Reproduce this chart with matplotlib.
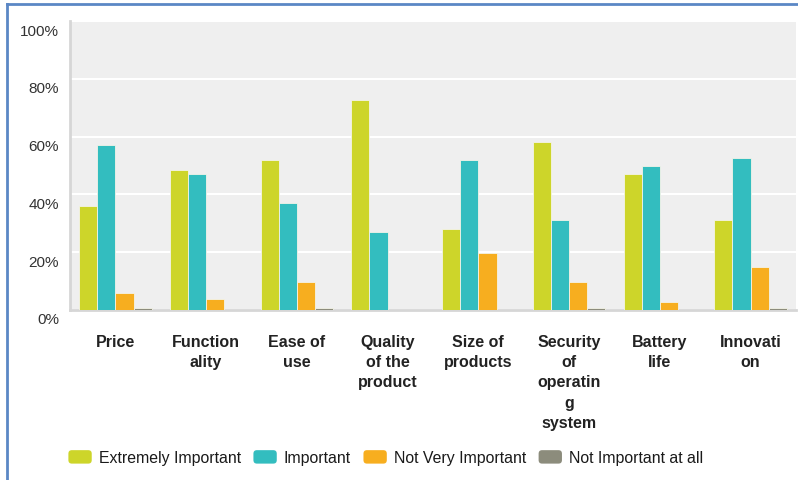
import matplotlib
matplotlib.use("Agg")
import matplotlib.pyplot as plt
import matplotlib.transforms as mtransforms
from matplotlib.patches import FancyBboxPatch
from matplotlib.legend_handler import HandlerPatch
from matplotlib.lines import Line2D
import numpy as np

plt.rcParams['font.family'] = ['Liberation Sans', 'DejaVu Sans']

categories = ["Price", "Function\nality", "Ease of\nuse", "Quality\nof the\nproduct",
              "Size of\nproducts", "Security\nof\noperatin\ng\nsystem", "Battery\nlife", "Innovati\non"]
series_names = ["Extremely Important", "Important", "Not Very Important", "Not Important at all"]
extremely_important = [36, 48.6, 52, 72.8, 28, 58.2, 47, 31]
important = [57, 47, 37, 27, 52, 31, 50, 52.5]
not_very_important = [5.8, 3.7, 9.8, 0, 19.8, 9.8, 2.8, 14.9]
not_important_at_all = [0.7, 0, 0.7, 0, 0, 0.7, 0, 0.7]
yticks = [0, 20, 40, 60, 80, 100]
ytick_labels = ["0%", "20%", "40%", "60%", "80%", "100%"]

series = [extremely_important, important, not_very_important, not_important_at_all]
colors = ["#CDD52A", "#33BDBF", "#F7AE1F", "#8C8C7C"]

fig = plt.figure(figsize=(7.98, 4.81), dpi=100)
ax = fig.add_axes([70/798, 1-311/481, 726/798, 289/481])
ax.set_facecolor("#EFEFEF")

x = np.arange(len(categories))
w = 0.2
for i, (vals, c) in enumerate(zip(series, colors)):
    ax.bar(x + (i - 1.5) * w, vals, width=w, color=c, edgecolor="#F4F4E8",
           linewidth=0.6, label=series_names[i], zorder=3)

ax.set_xlim(-0.5, len(categories) - 0.5)
ax.set_ylim(0, 100)
ax.set_yticks(yticks)
ax.set_yticklabels(ytick_labels, fontsize=11, color="#333333")
ax.yaxis.grid(True, color="white", linewidth=1.5, zorder=1)
ax.set_axisbelow(True)
ax.tick_params(axis='y', length=0, pad=8)
ax.tick_params(axis='x', length=0, pad=17)
ax.set_xticks(x)
ax.set_xticklabels(categories, fontsize=11.5, fontweight='bold', color="#222222",
                   linespacing=1.45, va='top')

offset = mtransforms.ScaledTranslation(0, -8/100, fig.dpi_scale_trans)
for lab in ax.get_yticklabels():
    lab.set_transform(lab.get_transform() + offset)

for s in ["top", "right"]:
    ax.spines[s].set_visible(False)
ax.spines["left"].set_color("#D6D6D6")
ax.spines["left"].set_linewidth(2)
ax.spines["bottom"].set_color("#D6D6D6")
ax.spines["bottom"].set_linewidth(2)


class RoundHandler(HandlerPatch):
    def create_artists(self, legend, orig_handle, xdescent, ydescent, width, height, fontsize, trans):
        p = FancyBboxPatch((-xdescent + 1, -ydescent + 1), width - 2, height - 2,
                           boxstyle="round,pad=0,rounding_size=2.5",
                           facecolor=orig_handle.get_facecolor(), edgecolor="none",
                           transform=trans)
        return [p]

handles = [plt.Rectangle((0, 0), 1, 1, facecolor=c) for c in colors]
leg = fig.legend(handles, series_names, loc="center left", bbox_to_anchor=(67/798, 1-458/481),
                 ncol=4, frameon=False, fontsize=11.4, handlelength=1.65, handleheight=1.2,
                 handletextpad=0.36, columnspacing=0.7, borderaxespad=0, borderpad=0,
                 handler_map={plt.Rectangle: RoundHandler()})
for t in leg.get_texts():
    t.set_color("#1A1A1A")

# blue frame lines (top and left)
fig.add_artist(Line2D([7/798, 1], [1-5/481, 1-5/481], color="#5B87C5", linewidth=2, transform=fig.transFigure))
fig.add_artist(Line2D([7/798, 7/798], [0, 1-5/481], color="#5B87C5", linewidth=2, transform=fig.transFigure))

fig.savefig("out.png", dpi=100, facecolor="white")
